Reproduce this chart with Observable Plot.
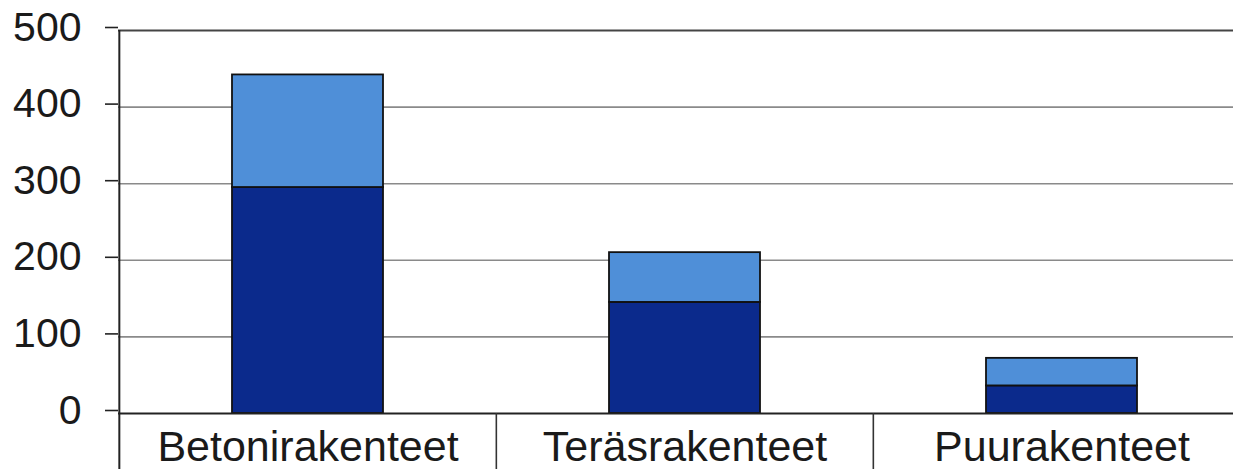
<!DOCTYPE html>
<html>
<head>
<meta charset="utf-8">
<script src="https://cdn.jsdelivr.net/npm/d3@7"></script>
<script src="https://cdn.jsdelivr.net/npm/@observablehq/plot@0.6"></script>
<style>
  html, body { margin: 0; padding: 0; background: #fff; }
  #chart svg { display: block; }
</style>
</head>
<body>
<div id="chart"></div>
<script>
const categories = ["Betonirakenteet", "Teräsrakenteet", "Puurakenteet"];
const seriesNames = ["alaosa", "yläosa"];
const lowerValues = [295, 145, 36];
const upperValues = [147, 65, 36];
const yTicks = [0, 100, 200, 300, 400, 500];
const seriesColors = ["#0b2a8c", "#4f8fd8"];

const rows = [];
categories.forEach((c, i) => {
  rows.push({category: c, series: seriesNames[0], value: lowerValues[i]});
  rows.push({category: c, series: seriesNames[1], value: upperValues[i]});
});

const W = 1233, H = 469;
const mL = 118, mT = 30, mB = 56;
const xRange = [118, 1250];
const xStep = (xRange[1] - xRange[0]) / categories.length;
const frameH = H - mT - mB;
const font = "'Liberation Sans', Arial, sans-serif";

const chart = Plot.plot({
  width: W,
  height: H,
  marginLeft: mL,
  marginRight: 0,
  marginTop: mT,
  marginBottom: mB,
  style: {fontFamily: font, color: "#1a1a1a", background: "#fff"},
  x: {domain: categories, range: xRange, paddingInner: 0.6, paddingOuter: 0.3, label: null},
  y: {domain: [0, 500], label: null},
  color: {domain: seriesNames, range: seriesColors},
  marks: [
    Plot.ruleY(yTicks.filter(t => t > 0 && t < 500), {y: d => d, stroke: "#8a8a8a", strokeWidth: 1.6}),
    Plot.ruleY([500], {y: d => d, stroke: "#444", strokeWidth: 2.2}),
    Plot.barY(rows, Plot.stackY({
      x: "category",
      y: "value",
      fill: "series",
      order: seriesNames,
      stroke: "#111",
      strokeWidth: 1.8
    })),
    Plot.ruleY([0], {y: d => d, stroke: "#222", strokeWidth: 2}),
    Plot.ruleX(categories.slice(0, 1), {x: d => d, dx: -xStep / 2, insetBottom: -mB, stroke: "#222", strokeWidth: 2}),
    Plot.ruleX(categories.slice(1), {x: d => d, dx: -xStep / 2, insetTop: frameH, insetBottom: -mB, stroke: "#333", strokeWidth: 1.6}),
    Plot.axisY({
      ticks: yTicks,
      tickSize: 13,
      tickPadding: 24,
      fontSize: 41,
      dy: -3,
      stroke: "#222",
      strokeWidth: 1.6,
      label: null
    }),
    Plot.axisX({
      tickSize: 0,
      tickPadding: 17,
      fontSize: 43,
      label: null
    })
  ]
});

document.getElementById("chart").appendChild(chart);
</script>
</body>
</html>
